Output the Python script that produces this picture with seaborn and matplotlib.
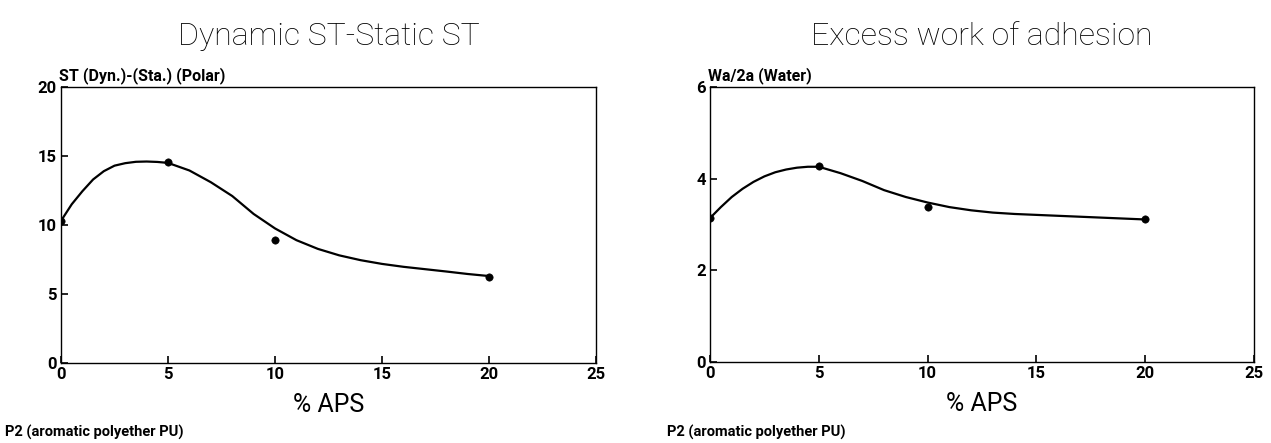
import numpy as np
import pandas as pd
import matplotlib.pyplot as plt
import seaborn as sns

# --- Data ---
aps_points = [0, 5, 10, 20]
st_points = [10.3, 14.6, 8.9, 6.25]
wa_points = [3.14, 4.27, 3.38, 3.11]

# smooth fitted curves, read at regular steps along the drawn line
curve_x = [0, 0.5, 1, 1.5, 2, 2.5, 3, 3.5, 4, 4.5, 5, 6, 7, 8, 9, 10,
           11, 12, 13, 14, 15, 16, 17, 18, 19, 20]
st_curve = [10.3, 11.5, 12.45, 13.3, 13.9, 14.3, 14.48, 14.58, 14.6, 14.57,
            14.5, 13.95, 13.1, 12.1, 10.8, 9.75, 8.9, 8.27, 7.8, 7.45,
            7.18, 6.97, 6.8, 6.63, 6.45, 6.3]
wa_curve = [3.14, 3.38, 3.6, 3.78, 3.93, 4.05, 4.14, 4.2, 4.24, 4.26,
            4.26, 4.12, 3.95, 3.75, 3.6, 3.48, 3.38, 3.31, 3.26, 3.23,
            3.21, 3.19, 3.17, 3.15, 3.13, 3.11]

x_ticks = [0, 5, 10, 15, 20, 25]
st_ticks = [0, 5, 10, 15, 20]
wa_ticks = [0, 2, 4, 6]

titles = ["Dynamic ST-Static ST", "Excess work of adhesion"]
ylabels = ["ST (Dyn.)-(Sta.) (Polar)", "Wa/2a (Water)"]
xlabel = "% APS"
footer = "P2 (aromatic polyether PU)"

sns.set_style("ticks")
plt.rcParams["font.family"] = ["Roboto", "DejaVu Sans"]
plt.rcParams["text.color"] = "black"
plt.rcParams["axes.labelcolor"] = "black"
plt.rcParams["xtick.color"] = "black"
plt.rcParams["ytick.color"] = "black"

fig = plt.figure(figsize=(12.71, 4.43), dpi=100)
ax1 = fig.add_axes([0.048, 0.1806, 0.421, 0.623])
ax2 = fig.add_axes([0.5586, 0.1828, 0.428, 0.6208])

panels = [
    (ax1, st_points, st_curve, st_ticks, 20),
    (ax2, wa_points, wa_curve, wa_ticks, 6),
]

for i, (ax, pts, crv, yt, ymax) in enumerate(panels):
    cdf = pd.DataFrame({"x": curve_x, "y": crv})
    pdf = pd.DataFrame({"x": aps_points, "y": pts})
    sns.lineplot(data=cdf, x="x", y="y", ax=ax, color="black", lw=1.6)
    sns.scatterplot(data=pdf, x="x", y="y", ax=ax, color="black", s=28,
                    edgecolor="black", zorder=3)
    ax.set_xlim(0, 25)
    ax.set_ylim(0, ymax)
    ax.set_xticks(x_ticks)
    ax.set_yticks(yt)
    ax.tick_params(direction="in", length=5, width=1.2, labelsize=12, pad=3)
    for lab in ax.get_xticklabels() + ax.get_yticklabels():
        lab.set_fontweight("bold")
    for sp in ax.spines.values():
        sp.set_linewidth(1.0)
        sp.set_color("black")
    ax.set_xlabel(xlabel, fontsize=18, labelpad=8)
    ax.set_ylabel("")
    ax.text(-0.004, 1.012, ylabels[i], transform=ax.transAxes, fontsize=11.5,
            fontweight="bold", ha="left", va="bottom")
    ax.set_title(titles[i], fontsize=23, fontweight="light", pad=30)

fig.text(0.004, 0.006, footer, fontsize=10.5, fontweight="bold",
         ha="left", va="bottom")
fig.text(0.525, 0.006, footer, fontsize=10.5, fontweight="bold",
         ha="left", va="bottom")

plt.savefig("out.png", dpi=100)
plt.close()
